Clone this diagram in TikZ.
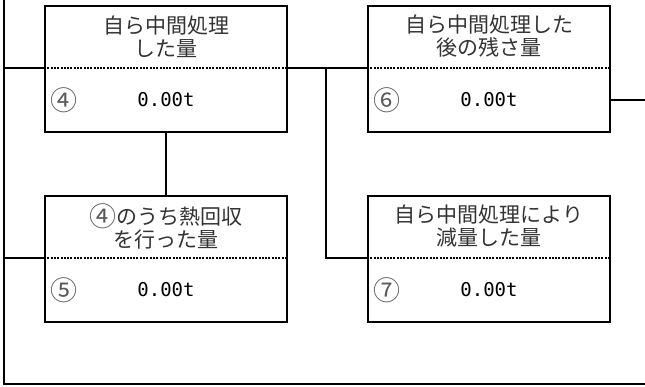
\documentclass[tikz,border=0pt]{standalone}
\usepackage{fontspec}
\newfontfamily\jpfont{Noto Sans CJK JP}
\newfontfamily\monofont{DejaVu Sans Mono}
\newcommand{\qcirc}[1]{{\fontsize{27}{23}\selectfont\color{black!65}\raisebox{-1.5pt}{#1}}}
\begin{document}
\begin{tikzpicture}[x=1pt,y=-1pt,line width=2pt,
  qbox/.style={draw,line width=2pt,minimum width=242pt,minimum height=126pt,inner sep=0pt,anchor=north west},
  qtitle/.style={align=center,inner sep=0pt,text=black!80,font=\jpfont\fontsize{21}{23}\selectfont},
  qnum/.style={inner sep=0pt,text=black!65,font=\jpfont\fontsize{27}{27}\selectfont},
  qval/.style={inner sep=0pt,text=black,font=\monofont\fontsize{19}{20}\selectfont},
  qdots/.style={line width=1.6pt,dash pattern=on 2pt off 1.3pt},
  conn/.style={line width=2pt}]
\useasboundingbox (0,0) rectangle (645,386);
% boxes
\node[qbox] (b1) at (44,5) {};
\node[qbox] (b2) at (44,195) {};
\node[qbox] (b3) at (367,5) {};
\node[qbox] (b4) at (367,195) {};
% dotted separators and border points
\foreach \b in {b1,b2,b3,b4}{
  \coordinate (\b w) at ([yshift=-63pt]\b.north west);
  \coordinate (\b e) at ([yshift=-63pt]\b.north east);
  \draw[qdots] (\b w) -- (\b e);
}
% titles
\node[qtitle] (t1) at ([yshift=-31.5pt]b1.north) {自ら中間処理\\した量};
\node[qtitle] (t2) at ([yshift=-31.5pt]b2.north) {\qcirc{④}のうち熱回収\\を行った量};
\node[qtitle] (t3) at ([yshift=-31.5pt]b3.north) {自ら中間処理した\\後の残さ量};
\node[qtitle] (t4) at ([yshift=-31.5pt]b4.north) {自ら中間処理により\\減量した量};
% numbers and values
\node[qnum] (n1) at ([xshift=20pt,yshift=-95pt]b1.north west) {④};
\node[qnum] (n2) at ([xshift=20pt,yshift=-95pt]b2.north west) {⑤};
\node[qnum] (n3) at ([xshift=20pt,yshift=-95pt]b3.north west) {⑥};
\node[qnum] (n4) at ([xshift=20pt,yshift=-95pt]b4.north west) {⑦};
\node[qval] (v1) at ([yshift=-95pt]b1.north) {0.00t};
\node[qval] (v2) at ([yshift=-95pt]b2.north) {0.00t};
\node[qval] (v3) at ([yshift=-95pt]b3.north) {0.00t};
\node[qval] (v4) at ([yshift=-95pt]b4.north) {0.00t};
% frame and connectors
\coordinate (ftop) at (4,0);
\coordinate (fbl) at (4,384);
\coordinate (fbr) at (645,384);
\coordinate (l1) at (4,68);
\coordinate (l2) at (4,258);
\coordinate (j) at (326,68);
\coordinate (b3x) at ([yshift=-95pt]b3.north east);
\coordinate (rout) at (645,100);
\draw[conn] (ftop) -- (fbl) -- (fbr);
\draw[conn] (l1) -- (b1w);
\draw[conn] (l2) -- (b2w);
\draw[conn] (b1e) -- (b3w);
\draw[conn] (j) |- (b4w);
\draw[conn] (b1.south) -- (b2.north);
\draw[conn] (b3x) -- (rout);
\end{tikzpicture}
\end{document}
